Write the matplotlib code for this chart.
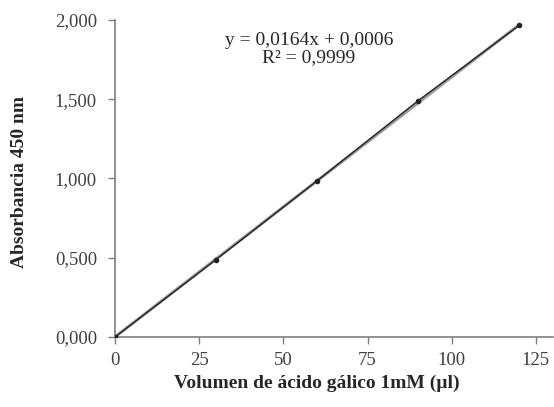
import numpy as np
import matplotlib.pyplot as plt

# datos de la curva de calibracion
volumen = [0, 30, 60, 90, 120]
absorbancia = [0.0, 0.488, 0.985, 1.49, 1.965]
pendiente = 0.0164
intercepto = 0.0006
x_ticks = [0, 25, 50, 75, 100, 125]
y_ticks = [0.0, 0.5, 1.0, 1.5, 2.0]

plt.rcParams['font.family'] = ['Liberation Serif', 'DejaVu Serif']

fig = plt.figure(figsize=(5.54, 4.07), dpi=100)
ax = fig.add_axes([0.2076, 0.172, 0.79, 0.779])

x_fit = np.array([volumen[0], volumen[-1]])
ax.plot(x_fit, pendiente * x_fit + intercepto, color='#9a9a9a', lw=2.2, zorder=2)
ax.plot(volumen, absorbancia, color='#222222', lw=1.0, marker='o', ms=3, zorder=3)

ax.set_xlim(0, 130)
ax.set_ylim(0, 2.0)
ax.set_xticks(x_ticks)
ax.set_yticks(y_ticks)
ax.set_yticklabels([f"{v:.3f}".replace('.', ',') for v in y_ticks])

for s in ['top', 'right']:
    ax.spines[s].set_visible(False)
for s in ['left', 'bottom']:
    ax.spines[s].set_color('#7f7f7f')
    ax.spines[s].set_linewidth(1.2)
ax.tick_params(colors='#7f7f7f', labelcolor='#404040', labelsize=13.5, length=5, width=1)
ax.tick_params(axis='x', pad=6)
ax.tick_params(axis='y', pad=8)

fig.text(0.571, 0.058, 'Volumen de ácido gálico 1mM (µl)', fontsize=14, fontweight='bold',
         color='#262626', ha='center', va='center')
fig.text(0.036, 0.553, 'Absorbancia 450 nm', fontsize=14, fontweight='bold',
         color='#262626', ha='center', va='center', rotation=90)

ax.text(0.443, 0.962, 'y = 0,0164x + 0,0006\nR² = 0,9999', transform=ax.transAxes,
        ha='center', va='top', fontsize=14, color='#262626', linespacing=1.0)

fig.savefig('out.png', dpi=100)
